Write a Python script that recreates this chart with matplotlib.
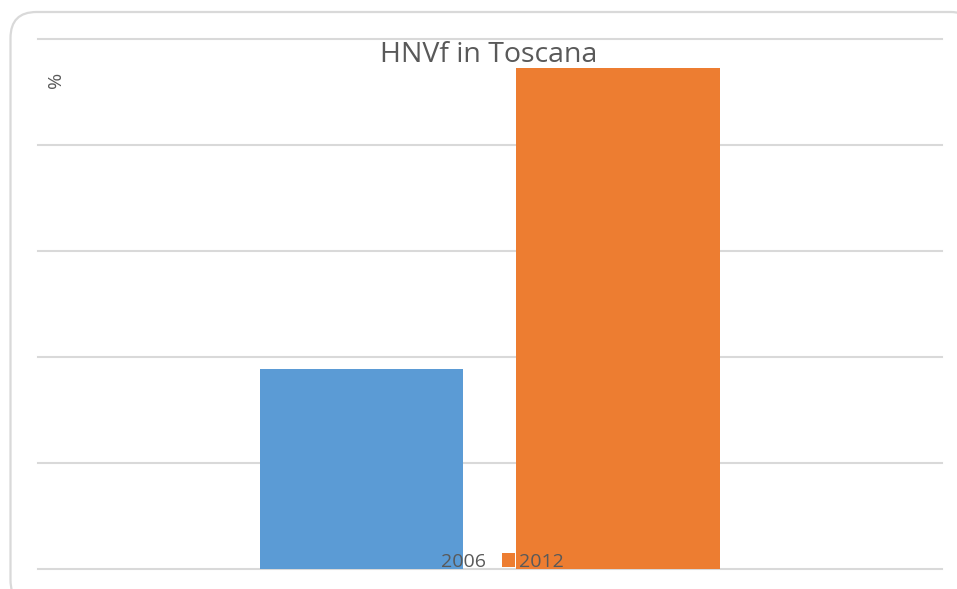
import matplotlib.pyplot as plt
from matplotlib.patches import FancyBboxPatch
from matplotlib.transforms import IdentityTransform

# --- dati ---
categoria = ['Toscana']
anni = ['2006', '2012']
valori = [1.89, 4.73]
colori = ['#5b9bd5', '#ed7d31']

W, H = 957, 589
fig = plt.figure(figsize=(W / 100, H / 100), dpi=100)
plt.rcParams['font.family'] = ['Open Sans', 'DejaVu Sans']

# cornice arrotondata (esce in basso e a destra, come nello screenshot)
cornice = FancyBboxPatch((10.5, H - 606), 966, 594,
                         boxstyle='round,pad=0,rounding_size=26',
                         transform=IdentityTransform(), facecolor='white',
                         edgecolor='#d9d9d9', lw=1.6, zorder=-5)
fig.patches.append(cornice)

ax = fig.add_axes([38 / W, 1 - 569 / H, 904 / W, 530 / H])
ax.patch.set_alpha(0)

larghezza = 0.2246
offset = [-0.1425, 0.1416]
for i, anno in enumerate(anni):
    ax.bar(offset[i], valori[i], width=larghezza, color=colori[i],
           label=anno, zorder=2)

ax.set_xlim(-0.5, 0.5)
ax.set_ylim(0, 5)
ax.set_yticks(range(6))
ax.grid(axis='y', color='#d9d9d9', lw=1.5, zorder=0)
for g in ax.get_ygridlines():
    g.set_clip_on(False)
ax.tick_params(length=0, labelleft=False, labelbottom=False)
for s in ax.spines.values():
    s.set_visible(False)

fig.text(489 / W, 1 - 55 / H, 'HNVf in Toscana', ha='center', va='center',
         fontsize=20.5, color='#595959')
fig.text(56 / W, 1 - 80 / H, '%', rotation=90, ha='center', va='center',
         fontsize=14, color='#595959')

leg = ax.legend(loc='center', bbox_to_anchor=(494 / W, 1 - 562 / H),
                bbox_transform=fig.transFigure, ncol=2, frameon=False,
                fontsize=14, handlelength=0.7, handleheight=0.7,
                handletextpad=0.2, columnspacing=0.8, labelcolor='#595959',
                borderpad=0)
leg.set_zorder(5)

fig.savefig('out.png', dpi=100)
